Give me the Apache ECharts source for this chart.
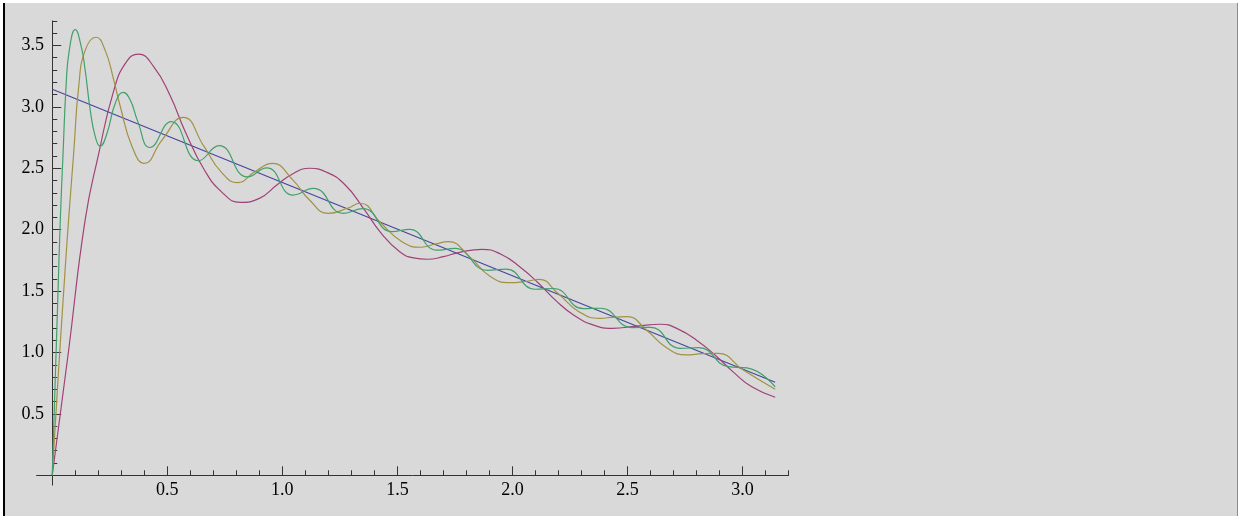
<!DOCTYPE html>
<html>
<head>
<meta charset="utf-8">
<script src="https://cdn.jsdelivr.net/npm/echarts@6/dist/echarts.min.js"></script>
<style>
  html, body { margin: 0; padding: 0; width: 1238px; height: 516px; background: #ffffff; overflow: hidden; }
  #frame { position: absolute; left: 3px; top: 3px; width: 1232px; height: 513px; background: #d9d9d9; border-left: 2px solid #000; border-right: 1px solid #8c8c8c; }
  #chart { position: absolute; left: 0; top: 0; width: 1238px; height: 516px; }
</style>
</head>
<body>
<div id="frame"></div>
<div id="chart"></div>
<script>
// Straight line (blue)
const blueX = [0, 3.1416];
const blueY = [3.143, 0.757];

// Coarse partial sum (magenta)
const magentaX = [0, 0.07, 0.143, 0.202, 0.267, 0.32, 0.375, 0.44, 0.51, 0.58, 0.66, 0.74, 0.816, 0.90, 0.98, 1.05, 1.118, 1.19, 1.27, 1.35, 1.43, 1.51, 1.57, 1.63, 1.70, 1.77, 1.868, 1.95, 2.03, 2.11, 2.19, 2.27, 2.35, 2.435, 2.54, 2.646, 2.72, 2.80, 2.88, 2.96, 3.04, 3.1416];
const magentaY = [0, 1.0, 2.08, 2.62, 3.13, 3.36, 3.43, 3.33, 3.10, 2.79, 2.49, 2.30, 2.223, 2.255, 2.37, 2.46, 2.50, 2.47, 2.37, 2.18, 1.97, 1.82, 1.77, 1.759, 1.78, 1.815, 1.84, 1.80, 1.70, 1.57, 1.42, 1.30, 1.225, 1.197, 1.215, 1.23, 1.19, 1.10, 0.98, 0.84, 0.72, 0.635];

// Medium partial sum (olive)
const oliveX = [0, 0.024, 0.048, 0.071, 0.093, 0.115, 0.143, 0.19, 0.23, 0.267, 0.294, 0.347, 0.40, 0.477, 0.569, 0.66, 0.733, 0.806, 0.88, 0.957, 1.045, 1.118, 1.2, 1.283, 1.337, 1.429, 1.52, 1.603, 1.664, 1.722, 1.813, 1.905, 1.987, 2.07, 2.115, 2.197, 2.289, 2.38, 2.44, 2.50, 2.582, 2.673, 2.756, 2.825, 2.893, 3.003, 3.1416];
const oliveY = [0, 0.75, 1.45, 2.08, 2.62, 3.165, 3.46, 3.567, 3.46, 3.22, 3.015, 2.676, 2.54, 2.73, 2.915, 2.676, 2.472, 2.383, 2.472, 2.54, 2.405, 2.242, 2.133, 2.174, 2.215, 2.052, 1.902, 1.857, 1.883, 1.902, 1.78, 1.617, 1.568, 1.582, 1.596, 1.482, 1.332, 1.278, 1.288, 1.292, 1.183, 1.034, 0.98, 0.99, 0.993, 0.857, 0.70];

// Fine partial sum (green)
const greenX = [0, 0.012, 0.024, 0.035, 0.047, 0.06, 0.074, 0.1, 0.126, 0.143, 0.165, 0.187, 0.208, 0.238, 0.274, 0.309, 0.339, 0.37, 0.425, 0.517, 0.636, 0.725, 0.848, 0.932, 1.047, 1.135, 1.265, 1.35, 1.476, 1.552, 1.672, 1.75, 1.891, 1.972, 2.098, 2.178, 2.308, 2.383, 2.519, 2.599, 2.729, 2.809, 2.939, 3.019, 3.1416];
const greenY = [0, 0.72, 1.43, 2.08, 2.62, 3.165, 3.46, 3.63, 3.49, 3.30, 2.975, 2.757, 2.68, 2.785, 3.03, 3.118, 3.056, 2.89, 2.669, 2.88, 2.561, 2.684, 2.43, 2.503, 2.282, 2.336, 2.133, 2.171, 1.984, 2.003, 1.833, 1.847, 1.669, 1.679, 1.515, 1.521, 1.357, 1.36, 1.203, 1.205, 1.034, 1.039, 0.884, 0.874, 0.72];

// Ticks
const xMajorTicks = [0.5, 1.0, 1.5, 2.0, 2.5, 3.0];
const xMinorTicks = [0.1, 0.2, 0.3, 0.4, 0.6, 0.7, 0.8, 0.9, 1.1, 1.2, 1.3, 1.4, 1.6, 1.7, 1.8, 1.9, 2.1, 2.2, 2.3, 2.4, 2.6, 2.7, 2.8, 2.9, 3.1, 3.2];
const yMajorTicks = [0.5, 1.0, 1.5, 2.0, 2.5, 3.0, 3.5];
const yMinorTicks = [0.1, 0.2, 0.3, 0.4, 0.6, 0.7, 0.8, 0.9, 1.1, 1.2, 1.3, 1.4, 1.6, 1.7, 1.8, 1.9, 2.1, 2.2, 2.3, 2.4, 2.6, 2.7, 2.8, 2.9, 3.1, 3.2, 3.3, 3.4, 3.6, 3.7];

const xRange = [-0.068, 3.2];
const yRange = [-0.08, 3.7];

function zip(xs, ys) { return xs.map((x, i) => [x, ys[i]]); }

const axisColor = '#333333';
const labelFont = { fontFamily: 'Liberation Serif', fontSize: 18, color: '#000' };

function makeAxis(range, major, isMajor, labelMargin) {
  return {
    type: 'value',
    min: range[0],
    max: range[1],
    axisLine: { show: isMajor, onZero: true, onZeroAxisIndex: 0, lineStyle: { color: axisColor, width: 1 } },
    axisTick: { show: true, inside: true, length: isMajor ? 9 : 5, customValues: major, lineStyle: { color: axisColor, width: 1 } },
    axisLabel: isMajor ? Object.assign({ show: true, customValues: major, margin: labelMargin, formatter: v => Number(v).toFixed(1) }, labelFont) : { show: false },
    splitLine: { show: false },
    minorTick: { show: false },
    minorSplitLine: { show: false }
  };
}

const chart = echarts.init(document.getElementById('chart'), null, { renderer: 'canvas' });
const xa0 = makeAxis(xRange, xMajorTicks, true, -4); xa0.position = 'bottom';
const xa1 = makeAxis(xRange, xMinorTicks, false, 0); xa1.position = 'bottom';
const ya0 = makeAxis(yRange, yMajorTicks, true, -7.4); ya0.position = 'left';
const ya1 = makeAxis(yRange, yMinorTicks, false, 0); ya1.position = 'left';

function line(name, xs, ys, color) {
  return {
    name: name, type: 'line', xAxisIndex: 0, yAxisIndex: 0,
    data: zip(xs, ys), showSymbol: false, smooth: true,
    lineStyle: { color: color, width: 1.2 }, itemStyle: { color: color },
    silent: true, animation: false
  };
}

chart.setOption({
  backgroundColor: 'transparent',
  animation: false,
  grid: { left: 36.6, top: 20.9, width: 752, height: 464.2, containLabel: false, outerBoundsMode: 'none' },
  xAxis: [xa0, xa1],
  yAxis: [ya0, ya1],
  series: [
    line('blue', blueX, blueY, '#4545a0'),
    line('magenta', magentaX, magentaY, '#a04277'),
    line('olive', oliveX, oliveY, '#a09244'),
    line('green', greenX, greenY, '#42a06b')
  ]
});
</script>
</body>
</html>
